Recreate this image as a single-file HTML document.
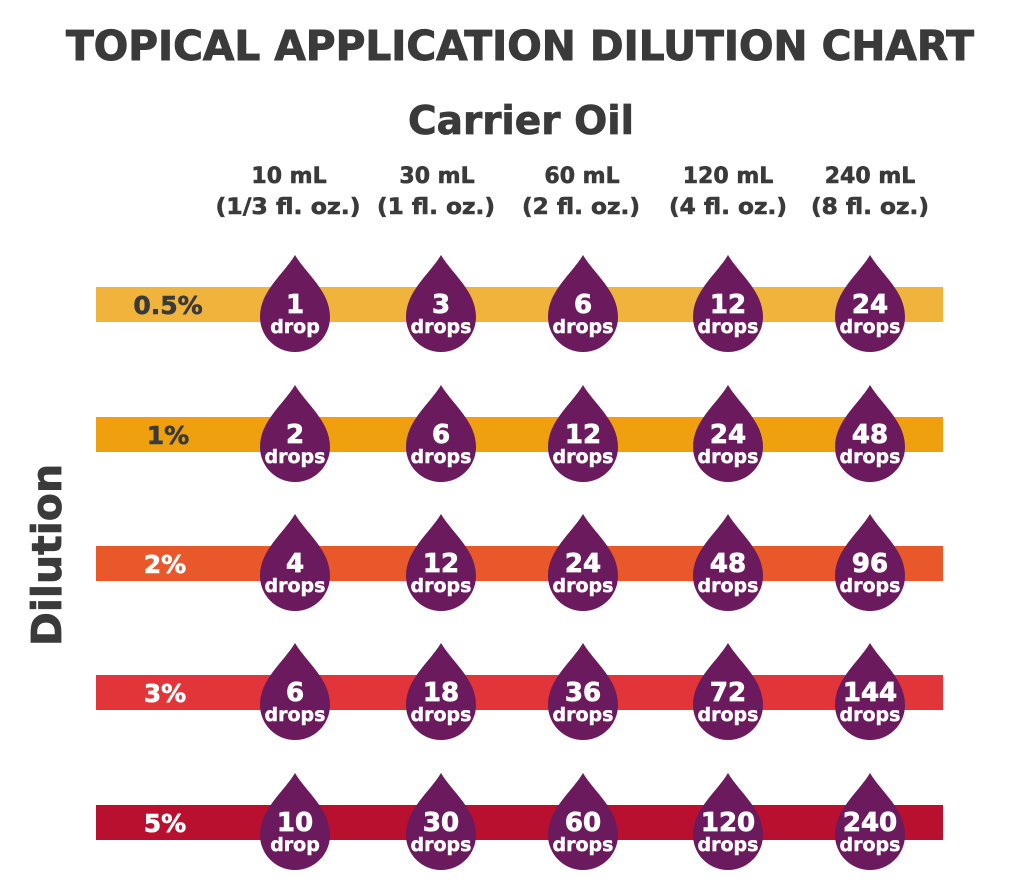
<!DOCTYPE html>
<html><head><meta charset="utf-8"><style>
html,body{margin:0;padding:0;background:#fff;}
svg{display:block;font-family:"DejaVu Sans","Liberation Sans",sans-serif;font-weight:bold;}
</style></head><body>
<svg width="1013" height="892" viewBox="0 0 1013 892" xmlns="http://www.w3.org/2000/svg">
<defs>
<path id="d" d="M0,-62 C12,-42 35,-26 35,0 A35,35 0 1 1 -35,0 C-35,-26 -12,-42 0,-62 Z" fill="#6B1A5E"/>
</defs>
<text x="520" y="60" text-anchor="middle" font-size="41" fill="#3a3a3a" stroke="#3a3a3a" stroke-width="1" textLength="908" lengthAdjust="spacingAndGlyphs">TOPICAL APPLICATION DILUTION CHART</text>
<text x="521" y="134" text-anchor="middle" font-size="39" fill="#3a3a3a" stroke="#3a3a3a" stroke-width="0.8">Carrier Oil</text>
<g font-size="22" fill="#3a3a3a" stroke="#3a3a3a" stroke-width="0.6" text-anchor="middle">
<text x="289" y="183">10 mL</text><text x="288" y="214" textLength="145" lengthAdjust="spacingAndGlyphs">(1/3 fl. oz.)</text>
<text x="437" y="183">30 mL</text><text x="436" y="214" textLength="118" lengthAdjust="spacingAndGlyphs">(1 fl. oz.)</text>
<text x="582" y="183">60 mL</text><text x="581" y="214" textLength="118" lengthAdjust="spacingAndGlyphs">(2 fl. oz.)</text>
<text x="728" y="183">120 mL</text><text x="728" y="214" textLength="118" lengthAdjust="spacingAndGlyphs">(4 fl. oz.)</text>
<text x="870" y="183">240 mL</text><text x="870" y="214" textLength="118" lengthAdjust="spacingAndGlyphs">(8 fl. oz.)</text>
</g>
<text transform="translate(61,555) rotate(-90)" text-anchor="middle" font-size="41" fill="#3a3a3a" stroke="#3a3a3a" stroke-width="0.8">Dilution</text>
<rect x="96" y="287" width="847" height="35" fill="#F0B43C"/>
<rect x="96" y="417" width="847" height="35" fill="#EFA00F"/>
<rect x="96" y="546" width="847" height="35" fill="#E8582A"/>
<rect x="96" y="675" width="847" height="35" fill="#E2353A"/>
<rect x="96" y="805" width="847" height="35" fill="#B8102E"/>
<g font-size="25" stroke-width="0.6">
<text x="168" y="314" text-anchor="middle" fill="#3a3a3a" stroke="#3a3a3a">0.5%</text>
<text x="168" y="444" text-anchor="middle" fill="#3a3a3a" stroke="#3a3a3a">1%</text>
<text x="165" y="573" text-anchor="middle" fill="#fff" stroke="#fff">2%</text>
<text x="165" y="702" text-anchor="middle" fill="#fff" stroke="#fff">3%</text>
<text x="165" y="832" text-anchor="middle" fill="#fff" stroke="#fff">5%</text>
</g>
<g fill="#fff" stroke="#fff" text-anchor="middle">
<g transform="translate(0,317)">
<use href="#d" x="295" stroke="none"/><use href="#d" x="441" stroke="none"/><use href="#d" x="583" stroke="none"/><use href="#d" x="728" stroke="none"/><use href="#d" x="870" stroke="none"/>
<g font-size="26" stroke-width="0.8"><text x="295" y="-4">1</text><text x="441" y="-4">3</text><text x="583" y="-4">6</text><text x="728" y="-4">12</text><text x="870" y="-4">24</text></g>
<g font-size="19" stroke-width="0.5"><text x="295" y="16">drop</text><text x="441" y="16">drops</text><text x="583" y="16">drops</text><text x="728" y="16">drops</text><text x="870" y="16">drops</text></g>
</g>
<g transform="translate(0,447)">
<use href="#d" x="295" stroke="none"/><use href="#d" x="441" stroke="none"/><use href="#d" x="583" stroke="none"/><use href="#d" x="728" stroke="none"/><use href="#d" x="870" stroke="none"/>
<g font-size="26" stroke-width="0.8"><text x="295" y="-4">2</text><text x="441" y="-4">6</text><text x="583" y="-4">12</text><text x="728" y="-4">24</text><text x="870" y="-4">48</text></g>
<g font-size="19" stroke-width="0.5"><text x="295" y="16">drops</text><text x="441" y="16">drops</text><text x="583" y="16">drops</text><text x="728" y="16">drops</text><text x="870" y="16">drops</text></g>
</g>
<g transform="translate(0,576)">
<use href="#d" x="295" stroke="none"/><use href="#d" x="441" stroke="none"/><use href="#d" x="583" stroke="none"/><use href="#d" x="728" stroke="none"/><use href="#d" x="870" stroke="none"/>
<g font-size="26" stroke-width="0.8"><text x="295" y="-4">4</text><text x="441" y="-4">12</text><text x="583" y="-4">24</text><text x="728" y="-4">48</text><text x="870" y="-4">96</text></g>
<g font-size="19" stroke-width="0.5"><text x="295" y="16">drops</text><text x="441" y="16">drops</text><text x="583" y="16">drops</text><text x="728" y="16">drops</text><text x="870" y="16">drops</text></g>
</g>
<g transform="translate(0,705)">
<use href="#d" x="295" stroke="none"/><use href="#d" x="441" stroke="none"/><use href="#d" x="583" stroke="none"/><use href="#d" x="728" stroke="none"/><use href="#d" x="870" stroke="none"/>
<g font-size="26" stroke-width="0.8"><text x="295" y="-4">6</text><text x="441" y="-4">18</text><text x="583" y="-4">36</text><text x="728" y="-4">72</text><text x="870" y="-4">144</text></g>
<g font-size="19" stroke-width="0.5"><text x="295" y="16">drops</text><text x="441" y="16">drops</text><text x="583" y="16">drops</text><text x="728" y="16">drops</text><text x="870" y="16">drops</text></g>
</g>
<g transform="translate(0,835)">
<use href="#d" x="295" stroke="none"/><use href="#d" x="441" stroke="none"/><use href="#d" x="583" stroke="none"/><use href="#d" x="728" stroke="none"/><use href="#d" x="870" stroke="none"/>
<g font-size="26" stroke-width="0.8"><text x="295" y="-4">10</text><text x="441" y="-4">30</text><text x="583" y="-4">60</text><text x="728" y="-4">120</text><text x="870" y="-4">240</text></g>
<g font-size="19" stroke-width="0.5"><text x="295" y="16">drop</text><text x="441" y="16">drops</text><text x="583" y="16">drops</text><text x="728" y="16">drops</text><text x="870" y="16">drops</text></g>
</g>
</g>
</svg>
</body></html>
